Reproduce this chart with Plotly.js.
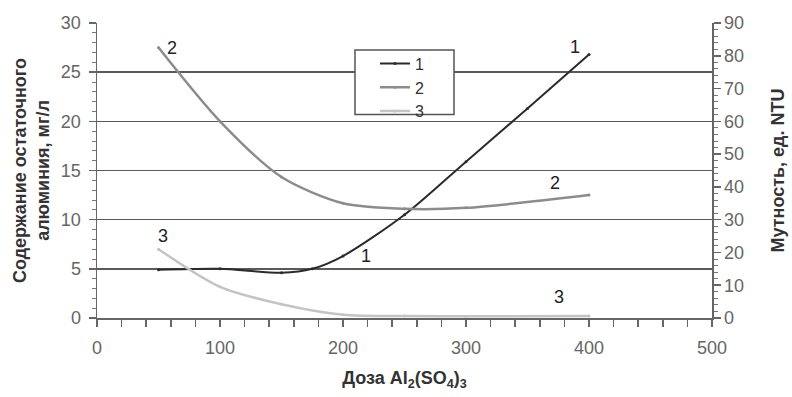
<!DOCTYPE html>
<html>
<head>
<meta charset="utf-8">
<script src="https://cdn.plot.ly/plotly-3.0.1.min.js"></script>
<style>html,body{margin:0;padding:0;background:#fff;}#chart{width:792px;height:397px;}</style>
</head>
<body>
<div id="chart"></div>
<script>
// Dose of Al2(SO4)3
const dose1 = [50, 100, 150, 175, 200, 250, 300, 350, 400];
const aluminium = [4.9, 5.0, 4.6, 5.0, 6.3, 10.5, 15.9, 21.3, 26.8];   // series 1, mg/l (left axis)
const dose2 = [50, 100, 150, 200, 250, 300, 400];
const turbidity2 = [82.5, 60, 43, 35, 33.3, 33.6, 37.5];              // series 2, NTU (right axis)
const dose3 = [50, 100, 150, 200, 250, 300, 400];
const turbidity3 = [21, 9.5, 4.2, 1.0, 0.6, 0.5, 0.6];                 // series 3, NTU (right axis)
const seriesNames = ['1', '2', '3'];

const FONT = '"Liberation Sans", Arial, sans-serif';

const traces = [
  {x: dose1, y: aluminium, name: seriesNames[0], yaxis: 'y', mode: 'lines+markers',
   line: {color: '#2b2b2b', width: 2, shape: 'spline', smoothing: 0.8},
   marker: {size: 3, color: '#2b2b2b'}},
  {x: dose2, y: turbidity2, name: seriesNames[1], yaxis: 'y2', mode: 'lines+markers',
   line: {color: '#8c8c8c', width: 2.5, shape: 'spline', smoothing: 0.8},
   marker: {size: 3, color: '#8c8c8c'}},
  {x: dose3, y: turbidity3, name: seriesNames[2], yaxis: 'y2', mode: 'lines+markers',
   line: {color: '#c4c4c4', width: 2.5, shape: 'spline', smoothing: 0.8},
   marker: {size: 3, color: '#c4c4c4'}}
];

const lab = (t, x, y, ax) => ({text: t, x: x, y: y, xref: 'x', yref: ax || 'y', showarrow: false,
  font: {family: FONT, size: 18, color: '#222'}});

const layout = {
  width: 792, height: 397,
  margin: {l: 97, r: 80, t: 23, b: 79},
  paper_bgcolor: '#fff', plot_bgcolor: '#fff',
  font: {family: FONT, color: '#555'},
  showlegend: true,
  legend: {x: 0.452, y: 0.92, xanchor: 'left', yanchor: 'top', bgcolor: 'rgba(0,0,0,0)',
    borderwidth: 0, font: {family: FONT, size: 16, color: '#333'}, tracegroupgap: 0, itemwidth: 30},
  xaxis: {range: [0, 500], dtick: 100, tick0: 0, showgrid: false, zeroline: false,
    showline: true, linecolor: '#666', linewidth: 1.5,
    ticks: 'outside', ticklen: 7, tickcolor: '#666', tickwidth: 1.5,
    minor: {dtick: 20, ticks: 'outside', ticklen: 7, tickcolor: '#666', tickwidth: 1.5, showgrid: false},
    tickfont: {family: FONT, size: 18, color: '#666'}, ticklabelstandoff: 6,
    title: {text: 'Доза Al<sub>2</sub>(SO<sub>4</sub>)<sub>3</sub>', font: {family: FONT, size: 18, color: '#333', weight: 'bold'}, standoff: 14}
  },
  yaxis: {range: [0, 30], dtick: 5, tick0: 0, showgrid: true, gridcolor: '#5a5a5a', gridwidth: 1.5,
    zeroline: false, showline: true, linecolor: '#666', linewidth: 1.5,
    ticks: 'outside', ticklen: 7, tickcolor: '#666', tickwidth: 1.5,
    minor: {dtick: 1, ticks: 'outside', ticklen: 4, tickcolor: '#777', tickwidth: 1, showgrid: false},
    tickfont: {family: FONT, size: 18, color: '#666'}, ticklabelstandoff: 4,
    title: {text: 'Содержание остаточного<br>алюминия, мг/л', font: {family: FONT, size: 18, color: '#333', weight: 'bold'}, standoff: 6}
  },
  yaxis2: {range: [0, 90], dtick: 10, tick0: 0, overlaying: 'y', side: 'right', showgrid: false,
    zeroline: false, showline: true, linecolor: '#666', linewidth: 1.5,
    ticks: 'outside', ticklen: 7, tickcolor: '#666', tickwidth: 1.5,
    minor: {dtick: 2, ticks: 'outside', ticklen: 4, tickcolor: '#777', tickwidth: 1, showgrid: false},
    tickfont: {family: FONT, size: 18, color: '#666'},
    title: {text: 'Мутность, ед. NTU', font: {family: FONT, size: 18, color: '#333', weight: 'bold'}, standoff: 28}
  },
  shapes: [
    {type: 'rect', xref: 'paper', yref: 'paper', x0: 0.4195, x1: 0.5805, y0: 0.69, y1: 0.9085,
     line: {color: '#555', width: 1.5}, fillcolor: '#fff', layer: 'above'}
  ],
  annotations: [
    lab('2', 61, 27.5), lab('1', 389, 27.6), lab('1', 219, 6.3),
    lab('2', 372, 13.7), lab('3', 54, 8.3), lab('3', 376, 2.1)
  ]
};

Plotly.newPlot('chart', traces, layout, {displayModeBar: false, staticPlot: true});
</script>
</body>
</html>
